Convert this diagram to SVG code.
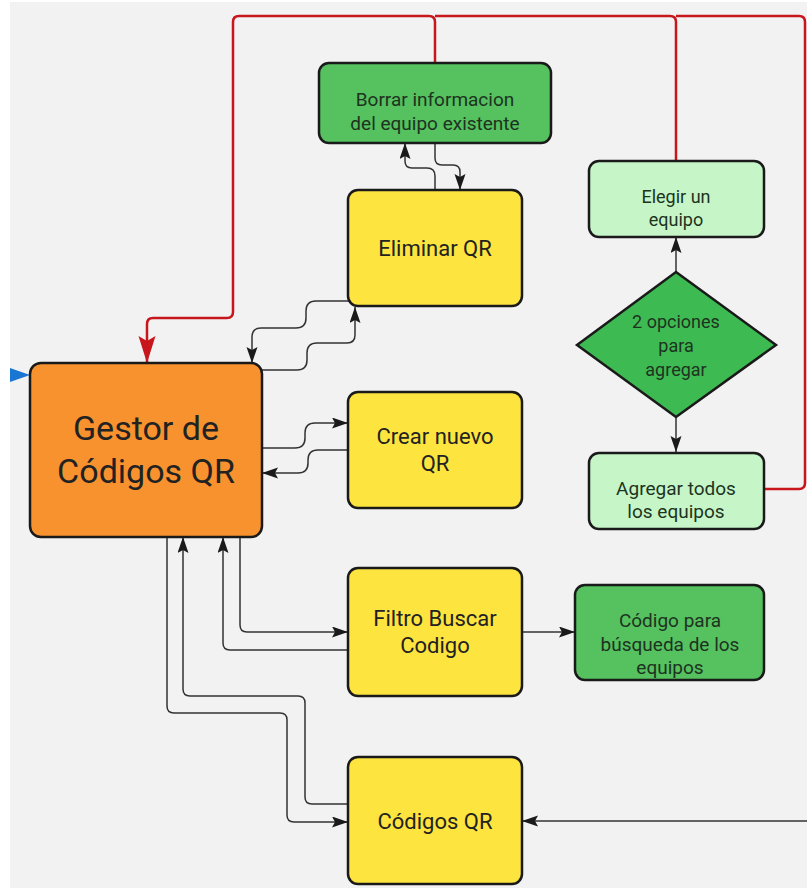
<svg xmlns="http://www.w3.org/2000/svg" width="807" height="888" viewBox="0 0 807 888">
<defs>
<style>
.n{stroke:#1a1a1a;stroke-width:2.5}
.y{fill:#fde43f}
.o{fill:#f7922f}
.g{fill:#55c15f}
.lg{fill:#c6f6c8}
.d{fill:#3dbb52}
.t{font-family:Roboto,"Liberation Sans",sans-serif;fill:#222;text-anchor:middle}
.tg{font-family:Roboto,"Liberation Sans",sans-serif;fill:#1d3320;text-anchor:middle}
.c{fill:none;stroke:#333;stroke-width:1.5}
.r{fill:none;stroke:#c8161d;stroke-width:2.5}
</style>
<marker id="ab" markerUnits="userSpaceOnUse" markerWidth="17" markerHeight="12" refX="16" refY="5.5" orient="auto"><path d="M0,0 L16,5.5 L0,11 L3,5.5 Z" fill="#1a1a1a"/></marker>
<marker id="ar" markerUnits="userSpaceOnUse" markerWidth="28" markerHeight="18" refX="27" refY="8.5" orient="auto"><path d="M0,0 L27,8.5 L0,17 L5,8.5 Z" fill="#c8161d"/></marker>
</defs>
<rect x="0" y="0" width="807" height="888" fill="#ffffff"/>
<rect x="10" y="2" width="797" height="886" fill="#f2f2f2"/>

<g id="connectors">
<path class="r" d="M765,489 H799 Q805,489 805,483 V22 Q805,16 799,16 H676"/>
<path class="r" d="M676,161 V22 Q676,16 670,16 H435"/>
<path class="r" d="M435,63 V22 Q435,16 429,16 H239 Q233,16 233,22 V312 Q233,318 227,318 H153 Q147,318 147,324 V363" marker-end="url(#ar)"/>
<path class="c" d="M435,190 V176 Q435,168 427,168 H412 Q405,168 405,161 V143" marker-end="url(#ab)"/>
<path class="c" d="M435,143 V158 Q435,165 442,165 H453 Q460,165 460,172 V190" marker-end="url(#ab)"/>
<path class="c" d="M349,301 H316 Q306,301 306,311 V318 Q306,328 296,328 H261 Q252,328 252,337 V363" marker-end="url(#ab)"/>
<path class="c" d="M262,370 H297 Q307,370 307,360 V353 Q307,343 317,343 H347 Q355,343 355,335 V307" marker-end="url(#ab)"/>
<path class="c" d="M262,448 H295 Q305,448 305,438 V433 Q305,423 315,423 H348" marker-end="url(#ab)"/>
<path class="c" d="M348,450 H318 Q308,450 308,460 V463 Q308,473 298,473 H262" marker-end="url(#ab)"/>
<path class="c" d="M240,537 V625 Q240,632 247,632 H348" marker-end="url(#ab)"/>
<path class="c" d="M348,650 H230 Q223,650 223,643 V537" marker-end="url(#ab)"/>
<path class="c" d="M348,804 H312 Q305,804 305,797 V703 Q305,696 298,696 H190 Q183,696 183,689 V537" marker-end="url(#ab)"/>
<path class="c" d="M167,537 V706 Q167,713 174,713 H280 Q287,713 287,720 V815 Q287,822 294,822 H348" marker-end="url(#ab)"/>
<path class="c" d="M522,632 H575" marker-end="url(#ab)"/>
<path class="c" d="M807,821 H522" marker-end="url(#ab)"/>
<path class="c" d="M676,272 V237" marker-end="url(#ab)"/>
<path class="c" d="M676,417 V452" marker-end="url(#ab)"/>
<path d="M10,368 L30,375 L10,382 Z" fill="#1976d2"/>
</g>

<g id="gestor">
<rect class="n o" x="30" y="363" width="232" height="174" rx="11"/>
<text class="t" x="146" y="440" font-size="34">Gestor de</text>
<text class="t" x="146" y="483" font-size="34">Códigos QR</text>
</g>
<g id="borrar">
<rect class="n g" x="319" y="63" width="232" height="80" rx="10"/>
<text class="tg" x="435" y="106" font-size="19">Borrar informacion</text>
<text class="tg" x="435" y="130" font-size="19">del equipo existente</text>
</g>
<g id="eliminar">
<rect class="n y" x="348" y="190" width="174" height="116" rx="10"/>
<text class="t" x="435" y="256" font-size="22">Eliminar QR</text>
</g>
<g id="elegir">
<rect class="n lg" x="589" y="161" width="175" height="76" rx="10"/>
<text class="tg" x="676" y="203" font-size="18">Elegir un</text>
<text class="tg" x="676" y="226" font-size="18">equipo</text>
</g>
<g id="opciones">
<polygon class="n d" points="676,272 776,345 676,417 577,345"/>
<text class="tg" x="676" y="328" font-size="18">2 opciones</text>
<text class="tg" x="676" y="352" font-size="18">para</text>
<text class="tg" x="676" y="376" font-size="18">agregar</text>
</g>
<g id="agregar">
<rect class="n lg" x="589" y="453" width="175" height="76" rx="10"/>
<text class="tg" x="676" y="495" font-size="19">Agregar todos</text>
<text class="tg" x="676" y="518" font-size="19">los equipos</text>
</g>
<g id="crear">
<rect class="n y" x="348" y="392" width="174" height="116" rx="10"/>
<text class="t" x="435" y="444" font-size="22">Crear nuevo</text>
<text class="t" x="435" y="471" font-size="22">QR</text>
</g>
<g id="filtro">
<rect class="n y" x="348" y="568" width="174" height="128" rx="10"/>
<text class="t" x="435" y="626" font-size="22">Filtro Buscar</text>
<text class="t" x="435" y="653" font-size="22">Codigo</text>
</g>
<g id="codigo-busqueda">
<rect class="n g" x="575" y="585" width="189" height="95" rx="10"/>
<text class="tg" x="670" y="627" font-size="19">Código para</text>
<text class="tg" x="670" y="651" font-size="19">búsqueda de los</text>
<text class="tg" x="670" y="674" font-size="19">equipos</text>
</g>
<g id="codigos-qr">
<rect class="n y" x="348" y="757" width="174" height="127" rx="10"/>
<text class="t" x="435" y="829" font-size="22">Códigos QR</text>
</g>
</svg>
